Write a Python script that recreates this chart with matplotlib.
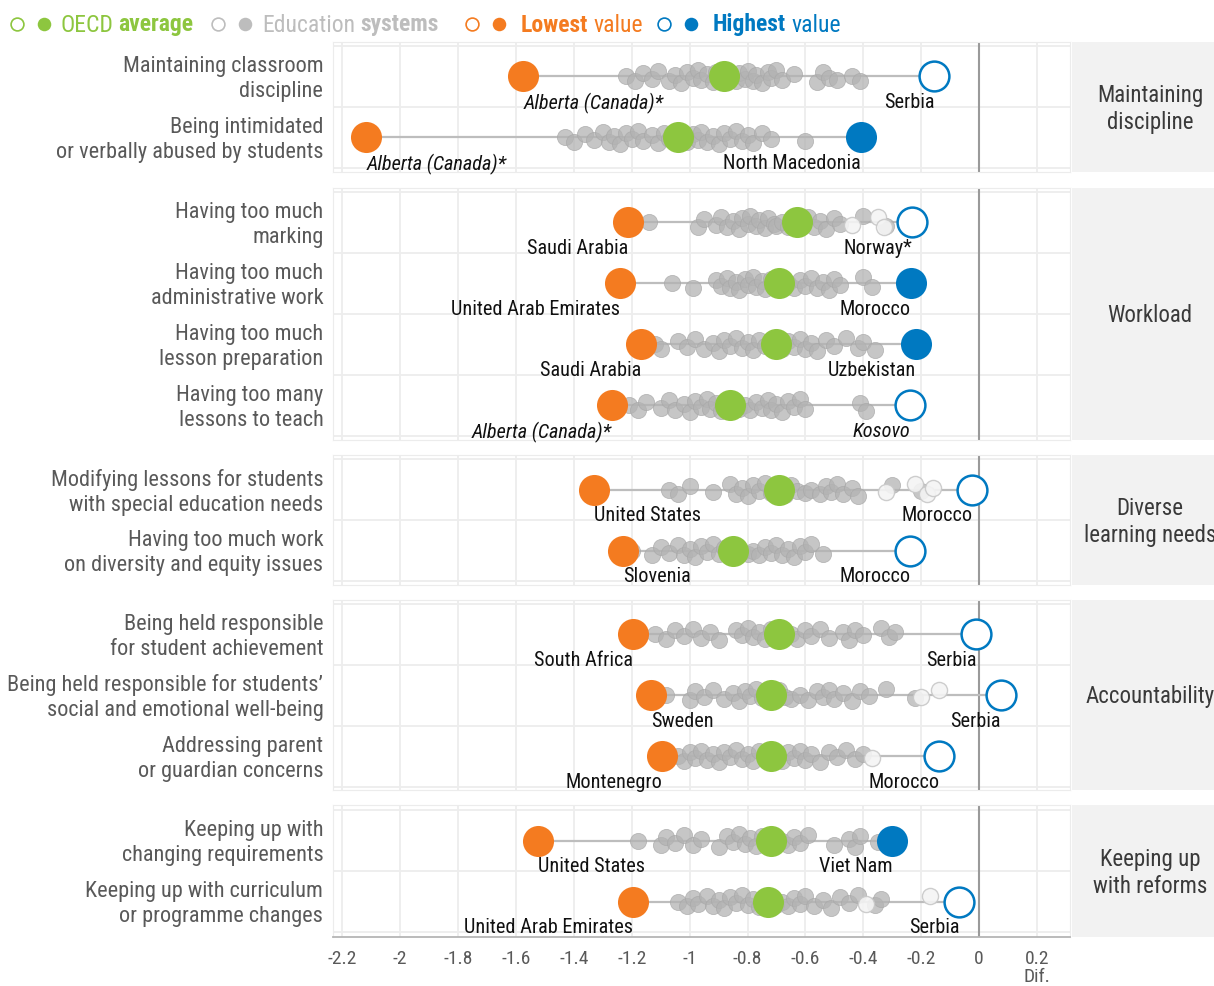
import matplotlib
matplotlib.use('Agg')

import matplotlib.pyplot as plt
from matplotlib.patches import Rectangle

plt.rcParams['font.family'] = ['Liberation Sans Narrow', 'Roboto Condensed', 'Archivo Narrow',
                               'PT Sans Narrow', 'Liberation Sans', 'DejaVu Sans']

W, H = 1214, 986
GREEN = '#8dc63f'
ORANGE = '#f47b20'
BLUE = '#0079c1'
GREY = '#b3b3b3'
LABEL_GREY = '#595959'

# --- data ---
group_names = ['Maintaining\ndiscipline', 'Workload', 'Diverse\nlearning needs',
               'Accountability', 'Keeping up\nwith reforms']
group_sizes = [2, 4, 2, 3, 2]

row_labels = [
    'Maintaining classroom\ndiscipline',
    'Being intimidated\nor verbally abused by students',
    'Having too much\nmarking',
    'Having too much\nadministrative work',
    'Having too much\nlesson preparation',
    'Having too many\nlessons to teach',
    'Modifying lessons for students\nwith special education needs',
    'Having too much work\non diversity and equity issues',
    'Being held responsible\nfor student achievement',
    'Being held responsible for students\u2019\nsocial and emotional well-being',
    'Addressing parent\nor guardian concerns',
    'Keeping up with\nchanging requirements',
    'Keeping up with curriculum\nor programme changes',
]

avg_values = [-0.88, -1.04, -0.63, -0.69, -0.70, -0.86, -0.69, -0.85, -0.69, -0.72, -0.72, -0.72, -0.73]
low_values = [-1.575, -2.117, -1.212, -1.240, -1.168, -1.268, -1.330, -1.230, -1.195, -1.133, -1.095, -1.523, -1.195]
low_names = ['Alberta (Canada)*', 'Alberta (Canada)*', 'Saudi Arabia', 'United Arab Emirates',
             'Saudi Arabia', 'Alberta (Canada)*', 'United States', 'Slovenia', 'South Africa',
             'Sweden', 'Montenegro', 'United States', 'United Arab Emirates']
high_values = [-0.155, -0.408, -0.231, -0.235, -0.218, -0.238, -0.024, -0.238, -0.010, 0.076, -0.138, -0.300, -0.069]
high_names = ['Serbia', 'North Macedonia', 'Norway*', 'Morocco', 'Uzbekistan', 'Kosovo',
              'Morocco', 'Morocco', 'Serbia', 'Serbia', 'Morocco', 'Viet Nam', 'Serbia']
high_filled = [False, True, False, True, True, False, False, False, False, False, False, True, False]

grey_values = [
    [-1.22, -1.19, -1.16, -1.13, -1.11, -1.07, -1.05, -1.03, -1.01, -0.99, -0.97, -0.96, -0.94, -0.92,
     -0.91, -0.89, -0.87, -0.86, -0.84, -0.83, -0.81, -0.80, -0.78, -0.77, -0.75, -0.73, -0.72, -0.70,
     -0.68, -0.64, -0.56, -0.54, -0.52, -0.49, -0.44, -0.41],
    [-1.43, -1.40, -1.36, -1.33, -1.30, -1.28, -1.26, -1.24, -1.22, -1.20, -1.18, -1.16, -1.13, -1.11,
     -1.09, -1.07, -1.05, -1.03, -1.01, -0.99, -0.97, -0.96, -0.94, -0.92, -0.90, -0.88, -0.86, -0.84,
     -0.82, -0.80, -0.78, -0.75, -0.72, -0.60],
    [-1.14, -0.97, -0.95, -0.91, -0.89, -0.87, -0.85, -0.83, -0.82, -0.80, -0.79, -0.77, -0.76, -0.74,
     -0.73, -0.71, -0.70, -0.68, -0.66, -0.64, -0.61, -0.59, -0.57, -0.55, -0.53, -0.50, -0.48, -0.40, -0.32],
    [-1.06, -0.99, -0.91, -0.89, -0.87, -0.86, -0.84, -0.83, -0.81, -0.80, -0.78, -0.77, -0.75, -0.74,
     -0.72, -0.71, -0.68, -0.66, -0.64, -0.62, -0.60, -0.58, -0.56, -0.54, -0.52, -0.50, -0.48, -0.40, -0.37],
    [-1.12, -1.10, -1.04, -1.01, -0.98, -0.95, -0.92, -0.90, -0.88, -0.86, -0.84, -0.82, -0.80, -0.78,
     -0.76, -0.74, -0.72, -0.70, -0.68, -0.66, -0.64, -0.62, -0.60, -0.58, -0.56, -0.53, -0.50, -0.46,
     -0.42, -0.40, -0.36],
    [-1.21, -1.18, -1.15, -1.10, -1.07, -1.05, -1.02, -1.00, -0.98, -0.96, -0.94, -0.93, -0.91, -0.89,
     -0.87, -0.85, -0.83, -0.81, -0.79, -0.77, -0.75, -0.73, -0.72, -0.70, -0.68, -0.66, -0.64, -0.62,
     -0.60, -0.41, -0.39],
    [-1.07, -1.04, -1.00, -0.92, -0.86, -0.84, -0.82, -0.80, -0.78, -0.76, -0.74, -0.72, -0.70, -0.67,
     -0.65, -0.63, -0.60, -0.58, -0.55, -0.53, -0.51, -0.49, -0.47, -0.44, -0.42, -0.30, -0.20],
    [-1.20, -1.13, -1.10, -1.07, -1.04, -1.02, -1.00, -0.98, -0.96, -0.94, -0.92, -0.90, -0.88, -0.86,
     -0.84, -0.82, -0.80, -0.78, -0.76, -0.74, -0.72, -0.70, -0.68, -0.66, -0.64, -0.62, -0.60, -0.58, -0.54],
    [-1.12, -1.08, -1.05, -1.02, -0.99, -0.96, -0.93, -0.90, -0.84, -0.82, -0.80, -0.78, -0.76, -0.74,
     -0.72, -0.70, -0.68, -0.65, -0.63, -0.60, -0.58, -0.55, -0.52, -0.47, -0.45, -0.43, -0.40, -0.34,
     -0.31, -0.29],
    [-1.08, -1.00, -0.98, -0.95, -0.92, -0.88, -0.85, -0.83, -0.81, -0.79, -0.77, -0.75, -0.73, -0.71,
     -0.69, -0.67, -0.65, -0.62, -0.59, -0.56, -0.54, -0.52, -0.50, -0.47, -0.44, -0.41, -0.38, -0.32, -0.22],
    [-1.04, -1.02, -1.00, -0.98, -0.96, -0.94, -0.92, -0.90, -0.88, -0.86, -0.84, -0.82, -0.80, -0.78,
     -0.76, -0.74, -0.72, -0.70, -0.68, -0.66, -0.64, -0.62, -0.60, -0.58, -0.55, -0.52, -0.49, -0.46,
     -0.43, -0.40],
    [-1.18, -1.10, -1.08, -1.05, -1.02, -0.99, -0.96, -0.90, -0.87, -0.85, -0.83, -0.81, -0.79, -0.77,
     -0.75, -0.73, -0.70, -0.68, -0.66, -0.64, -0.62, -0.59, -0.50, -0.45, -0.43, -0.41, -0.35],
    [-1.04, -1.01, -0.99, -0.97, -0.94, -0.92, -0.90, -0.88, -0.86, -0.84, -0.82, -0.80, -0.78, -0.76,
     -0.74, -0.72, -0.70, -0.68, -0.66, -0.64, -0.62, -0.60, -0.57, -0.54, -0.51, -0.48, -0.45, -0.42,
     -0.36, -0.34],
]
# non-significant systems (light, hollow-looking)
grey_faint = [[], [], [-0.44, -0.35, -0.33], [], [], [], [-0.32, -0.22, -0.18, -0.16], [], [],
              [-0.20, -0.14], [-0.37], [], [-0.39, -0.17]]

tick_values = [-2.2, -2, -1.8, -1.6, -1.4, -1.2, -1, -0.8, -0.6, -0.4, -0.2, 0, 0.2]
tick_labels = ['-2.2', '-2', '-1.8', '-1.6', '-1.4', '-1.2', '-1', '-0.8', '-0.6', '-0.4', '-0.2', '0', '0.2']

# --- style ---
low_ha = ['left', 'left', 'right', 'right', 'right', 'right', 'left', 'left', 'right', 'left', 'right', 'left', 'right']
italic_names = ['Alberta (Canada)*', 'Kosovo']
JITTER = [0, 0.08, -0.06, 0.04, -0.09, 0.07, -0.03, 0.1, -0.07, 0.02, -0.1, 0.05, -0.04, 0.09, -0.08, 0.03, 0.06]
group_px = [(42, 172), (188, 440), (455, 585), (600, 790), (805, 937)]
ROW_PX = 61
X0_PX, X1_PX = 333, 1070
XLIM = (-2.232, 0.314)
BIG = 500
SMALL = 135
FS_ROW = 16
FS_NAME = 14.6
FS_STRIP = 16.5

fig = plt.figure(figsize=(W / 100, H / 100), dpi=100)


def px_axes(x0, y0, x1, y1, **kw):
    return fig.add_axes([x0 / W, 1 - y1 / H, (x1 - x0) / W, (y1 - y0) / H], **kw)


overlay = px_axes(0, 0, W, H, zorder=-1)
overlay.set_xlim(0, W)
overlay.set_ylim(H, 0)
overlay.axis('off')

row = 0
for g, n in enumerate(group_sizes):
    y0, y1 = group_px[g]
    ax = px_axes(X0_PX, y0, X1_PX, y1)
    pad = ((y1 - y0) / ROW_PX - (n - 1)) / 2
    ax.set_xlim(*XLIM)
    ax.set_ylim(n - 1 + pad, -pad)
    for v in tick_values:
        ax.axvline(v, color='#ededed', lw=1.3, zorder=0)
    for k in range(n + 1):
        ax.axhline(k - 0.5, color='#ededed', lw=1.3, zorder=0)
    ax.axvline(0, color='#9a9a9a', lw=1.5, zorder=1)
    for s in ax.spines.values():
        s.set_color('#ececec')
    ax.set_yticks([])
    ax.tick_params(length=0)
    if g == len(group_sizes) - 1:
        ax.spines['bottom'].set_color('#b5b5b5')
        ax.spines['bottom'].set_linewidth(1.3)
        ax.set_xticks(tick_values)
        ax.set_xticklabels(tick_labels, fontsize=14, color=LABEL_GREY)
        ax.tick_params(axis='x', pad=9)
        ax.annotate('Dif.', xy=(0.2, 0), xycoords=('data', 'axes fraction'), xytext=(0, -29),
                    textcoords='offset points', ha='center', va='center', fontsize=14, color=LABEL_GREY)
    else:
        ax.set_xticks([])

    for i in range(n):
        r = row + i
        ax.plot([low_values[r], high_values[r]], [i, i], color='#bdbdbd', lw=1.6, zorder=2)
        gx = grey_values[r]
        gy = [i + JITTER[k % len(JITTER)] for k in range(len(gx))]
        ax.scatter(gx, gy, s=SMALL, color=GREY, alpha=0.75, edgecolors='#a8a8a8', linewidths=0.6, zorder=3)
        if grey_faint[r]:
            fx = grey_faint[r]
            fy = [i + JITTER[(k + 3) % len(JITTER)] for k in range(len(fx))]
            ax.scatter(fx, fy, s=SMALL, facecolor='#f4f4f4', edgecolors='#c8c8c8', linewidths=1, alpha=0.9, zorder=3)
        ax.scatter([avg_values[r]], [i], s=BIG, color=GREEN, linewidths=0, zorder=5)
        ax.scatter([low_values[r]], [i], s=BIG, color=ORANGE, linewidths=0, zorder=6)
        if high_filled[r]:
            ax.scatter([high_values[r]], [i], s=BIG, color=BLUE, linewidths=0, zorder=6)
        else:
            ax.scatter([high_values[r]], [i], s=BIG - 40, facecolor='white', edgecolors=BLUE, linewidths=1.8, zorder=6)

        ax.annotate(low_names[r], xy=(low_values[r], i), xytext=(0, -12), textcoords='offset points',
                    ha=low_ha[r], va='top', fontsize=FS_NAME, color='#111111',
                    fontstyle='italic' if low_names[r] in italic_names else 'normal', zorder=7)
        ax.annotate(high_names[r], xy=(high_values[r], i), xytext=(0, -12), textcoords='offset points',
                    ha='right', va='top', fontsize=FS_NAME, color='#111111',
                    fontstyle='italic' if high_names[r] in italic_names else 'normal', zorder=7)
        ax.annotate(row_labels[r], xy=(0, i), xycoords=('axes fraction', 'data'), xytext=(-7, -2),
                    textcoords='offset points', ha='right', va='center', multialignment='right',
                    fontsize=FS_ROW, color=LABEL_GREY, linespacing=1.25)

    # strip on the right
    overlay.add_patch(Rectangle((1072, y0), 200, y1 - y0, facecolor='#f2f2f2', edgecolor='none'))
    overlay.text(1150, (y0 + y1) / 2 + 2, group_names[g], ha='center', va='center', fontsize=FS_STRIP,
                 color='#3a3a3a', linespacing=1.2)
    row += n

# --- legend across the top ---
renderer = fig.canvas.get_renderer()
legend_items = [
    (17, 60, GREEN, [('OECD', 'normal'), ('average', 'bold')]),
    (218, 262, '#bdbdbd', [('Education', 'normal'), ('systems', 'bold')]),
    (472, 521, ORANGE, [('Lowest', 'bold'), ('value', 'normal')]),
    (664, 713, BLUE, [('Highest', 'bold'), ('value', 'normal')]),
]
LY = 24
for cx, tx, col, parts in legend_items:
    overlay.scatter([cx], [LY], s=85, facecolor='white', edgecolors=col, linewidths=1.2)
    overlay.scatter([cx + 27], [LY], s=95, color=col, linewidths=0)
    x = tx
    for txt, weight in parts:
        t = overlay.text(x, LY + 1, txt, ha='left', va='center', fontsize=17, color=col, fontweight=weight)
        x += t.get_window_extent(renderer).width + 5

fig.savefig('out.png', dpi=100)
